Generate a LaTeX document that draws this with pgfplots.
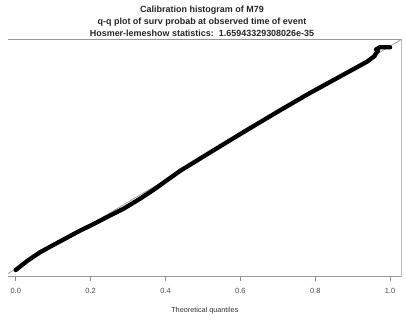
\documentclass[border=0pt]{standalone}
\usepackage{fontspec}
\setmainfont{Liberation Sans}
\usepackage{pgfplots}
\pgfplotsset{compat=1.18}
\begin{document}
\begin{tikzpicture}[x=1bp,y=1bp]
\useasboundingbox (0,0) rectangle (406,322);
\node[align=center, font=\bfseries\fontsize{9}{12}\selectfont, text=black!85] at (202,301)
  {Calibration histogram of M79\\q-q plot of surv probab at observed time of event\\Hosmer-lemeshow statistics:\ \ 1.65943329308026e-35};
\begin{axis}[at={(8bp,45.3bp)}, anchor=south west, scale only axis,
  width=393.7bp, height=237.4bp,
  xmin=-0.0206, xmax=1.031, ymin=-0.035, ymax=1.031,
  axis line style={draw=none},
  xtick={0,0.2,0.4,0.6,0.8,1.0},
  xticklabels={0.0,0.2,0.4,0.6,0.8,1.0},
  ytick=\empty,
  xtick pos=lower,
  tick align=outside,
  major tick length=4.5bp,
  every tick/.style={black!45, line width=0.8bp},
  /pgf/number format/assume math mode=true,
  xticklabel style={font=\fontsize{7.5}{9}\selectfont, text=black!70, yshift=-4bp},
  xlabel={Theoretical quantiles},
  xlabel style={at={(axis description cs:0.5,0)}, anchor=center, yshift=-33.5bp,
    font=\fontsize{7.3}{9}\selectfont, text=black!80},
  clip=true,
]
\addplot[black!40, line width=0.7bp] coordinates {(-0.0206,-0.0206) (1.031,1.031)};
\addplot[black, line width=4.3bp, line cap=round, line join=round] coordinates {
(0.000,-0.005)
(0.030, 0.035)
(0.065, 0.075)
(0.120, 0.125)
(0.172, 0.172)
(0.210, 0.203)
(0.243, 0.232)
(0.290, 0.272)
(0.332, 0.315)
(0.370, 0.357)
(0.403, 0.397)
(0.439, 0.440)
(0.528, 0.532)
(0.617, 0.623)
(0.706, 0.712)
(0.786, 0.790)
(0.849, 0.848)
(0.900, 0.895)
(0.938, 0.930)
(0.958, 0.955)
(0.964, 0.972)
(0.968, 0.980)
(0.962, 0.985)
(0.972, 0.995)
(1.000, 0.995)
};
\draw[black!40, line width=1.2bp] (rel axis cs:0,1) -- (rel axis cs:1,1) -- (rel axis cs:1,0) -- (rel axis cs:0,0);
\end{axis}
\end{tikzpicture}
\end{document}
